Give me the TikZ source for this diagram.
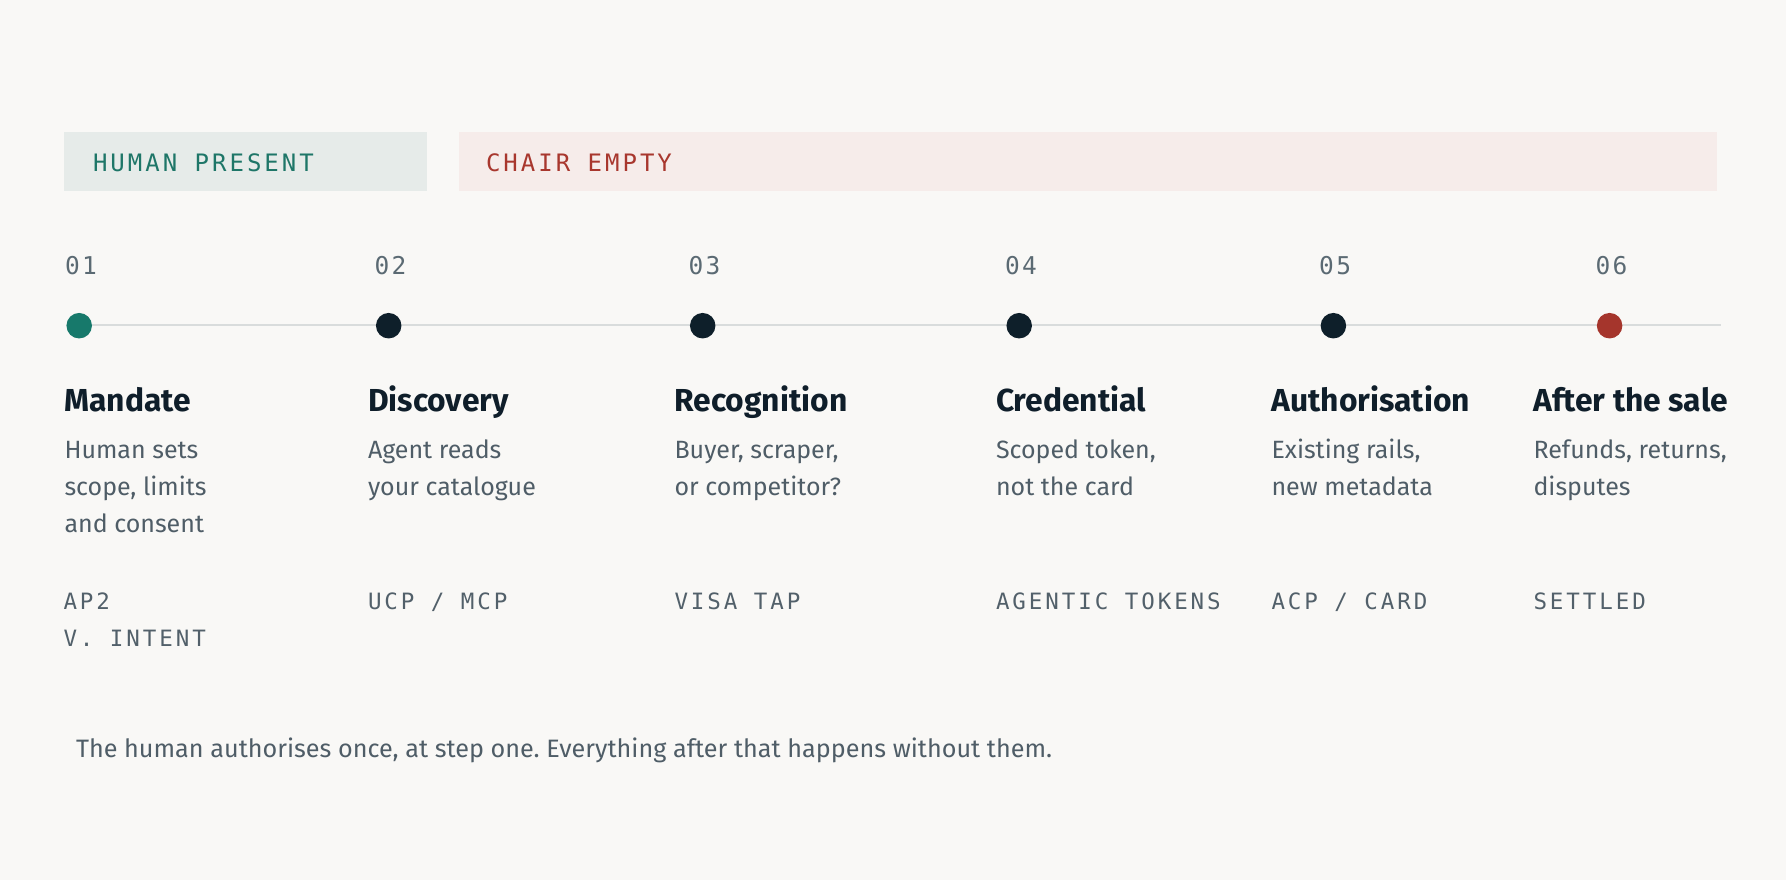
\documentclass[tikz,border=0pt]{standalone}
\usepackage{fontspec}
\setmainfont{Fira Sans}
\newfontfamily\monohead[LetterSpace=12.5]{DejaVu Sans Mono}
\newfontfamily\mononum[LetterSpace=10]{DejaVu Sans Mono}
\newfontfamily\monotag[LetterSpace=13]{DejaVu Sans Mono}
\definecolor{bg}{HTML}{F9F8F6}
\definecolor{humanbg}{HTML}{E6EBE9}
\definecolor{humanfg}{HTML}{1E7668}
\definecolor{chairbg}{HTML}{F6ECEA}
\definecolor{chairfg}{HTML}{A8372E}
\definecolor{dotteal}{HTML}{17796B}
\definecolor{dotdark}{HTML}{0E1F2A}
\definecolor{dotred}{HTML}{A5352C}
\definecolor{rail}{HTML}{D9DCDC}
\definecolor{titlec}{HTML}{0F1E2A}
\definecolor{descc}{HTML}{4F5D67}
\definecolor{tagc}{HTML}{52606A}
\definecolor{numc}{HTML}{5B6A73}
\begin{document}
\frenchspacing
\begin{tikzpicture}[x=1pt,y=-1pt,
  txt/.style={inner sep=0pt,outer sep=0pt,anchor=base west},
  bandlabel/.style={txt,font=\monohead\fontsize{24}{24}\selectfont},
  num/.style={inner sep=0pt,outer sep=0pt,anchor=base,text=numc,font=\mononum\fontsize{24.5}{24.5}\selectfont},
  ttl/.style={txt,text=titlec,font=\bfseries\fontsize{31.8}{31.8}\selectfont},
  desc/.style={txt,text=descc,font=\fontsize{25}{25}\selectfont},
  tag/.style={txt,text=tagc,font=\monotag\fontsize{22.5}{22.5}\selectfont},
  dotn/.style={circle,inner sep=0pt,minimum size=25.5pt}]
\path[use as bounding box,fill=bg] (0,0) rectangle (1786,880);
% bands
\fill[humanbg] (64,132) rectangle (427,190.7);
\fill[chairbg] (459,132) rectangle (1717,190.7);
\node[bandlabel,text=humanfg] (hp) at (93,171.7) {HUMAN PRESENT};
\node[bandlabel,text=chairfg] (ce) at (486,171.7) {CHAIR EMPTY};
% rail
\coordinate (railstart) at (79.2,325);
\coordinate (railend) at (1720.6,325);
\draw[rail,line width=2.4pt] (railstart) -- (railend);
% dots
\node[dotn,fill=dotteal] (d1) at (79.2,325.7) {};
\node[dotn,fill=dotdark] (d2) at (388.7,325.7) {};
\node[dotn,fill=dotdark] (d3) at (702.7,325.7) {};
\node[dotn,fill=dotdark] (d4) at (1019.2,325.7) {};
\node[dotn,fill=dotdark] (d5) at (1333.4,325.7) {};
\node[dotn,fill=dotred] (d6) at (1609.6,325.7) {};
% numbers
\node[num] (n1) at (81,274.3) {01};
\node[num] (n2) at (390.5,274.3) {02};
\node[num] (n3) at (704.5,274.3) {03};
\node[num] (n4) at (1021,274.3) {04};
\node[num] (n5) at (1335.2,274.3) {05};
\node[num] (n6) at (1611.5,274.3) {06};
% titles
\node[ttl] (t1) at (64.5,411.5) {Mandate};
\node[ttl] (t2) at (368,411.5) {Discovery};
\node[ttl] (t3) at (674.5,411.5) {Recognition};
\node[ttl] (t4) at (996,411.5) {Credential};
\node[ttl] (t5) at (1271.5,411.5) {Authorisation};
\node[ttl] (t6) at (1533.5,411.5) {After the sale};
% descriptions
\node[desc] (a1) at (64.5,458.8) {Human sets};
\node[desc] (b1) at (64.5,495.5) {scope, limits};
\node[desc] (c1) at (64.5,532.2) {and consent};
\node[desc] (a2) at (368,458.8) {Agent reads};
\node[desc] (b2) at (368,495.5) {your catalogue};
\node[desc] (a3) at (674.5,458.8) {Buyer, scraper,};
\node[desc] (b3) at (674.5,495.5) {or competitor?};
\node[desc] (a4) at (996,458.8) {Scoped token,};
\node[desc] (b4) at (996,495.5) {not the card};
\node[desc] (a5) at (1271.5,458.8) {Existing rails,};
\node[desc] (b5) at (1271.5,495.5) {new metadata};
\node[desc] (a6) at (1533.5,458.8) {Refunds, returns,};
\node[desc] (b6) at (1533.5,495.5) {disputes};
% tags
\node[tag] (g1) at (63.5,609.3) {AP2};
\node[tag] (h1) at (63.5,646) {V. INTENT};
\node[tag] (g2) at (368,609.3) {UCP / MCP};
\node[tag] (g3) at (674.5,609.3) {VISA TAP};
\node[tag] (g4) at (996,609.3) {AGENTIC TOKENS};
\node[tag] (g5) at (1271.5,609.3) {ACP / CARD};
\node[tag] (g6) at (1533.5,609.3) {SETTLED};
% footer
\node[desc,font=\fontsize{25.2}{25.2}\selectfont] (foot) at (76,757.5) {The human authorises once, at step one. Everything after that happens without them.};
\end{tikzpicture}
\end{document}
